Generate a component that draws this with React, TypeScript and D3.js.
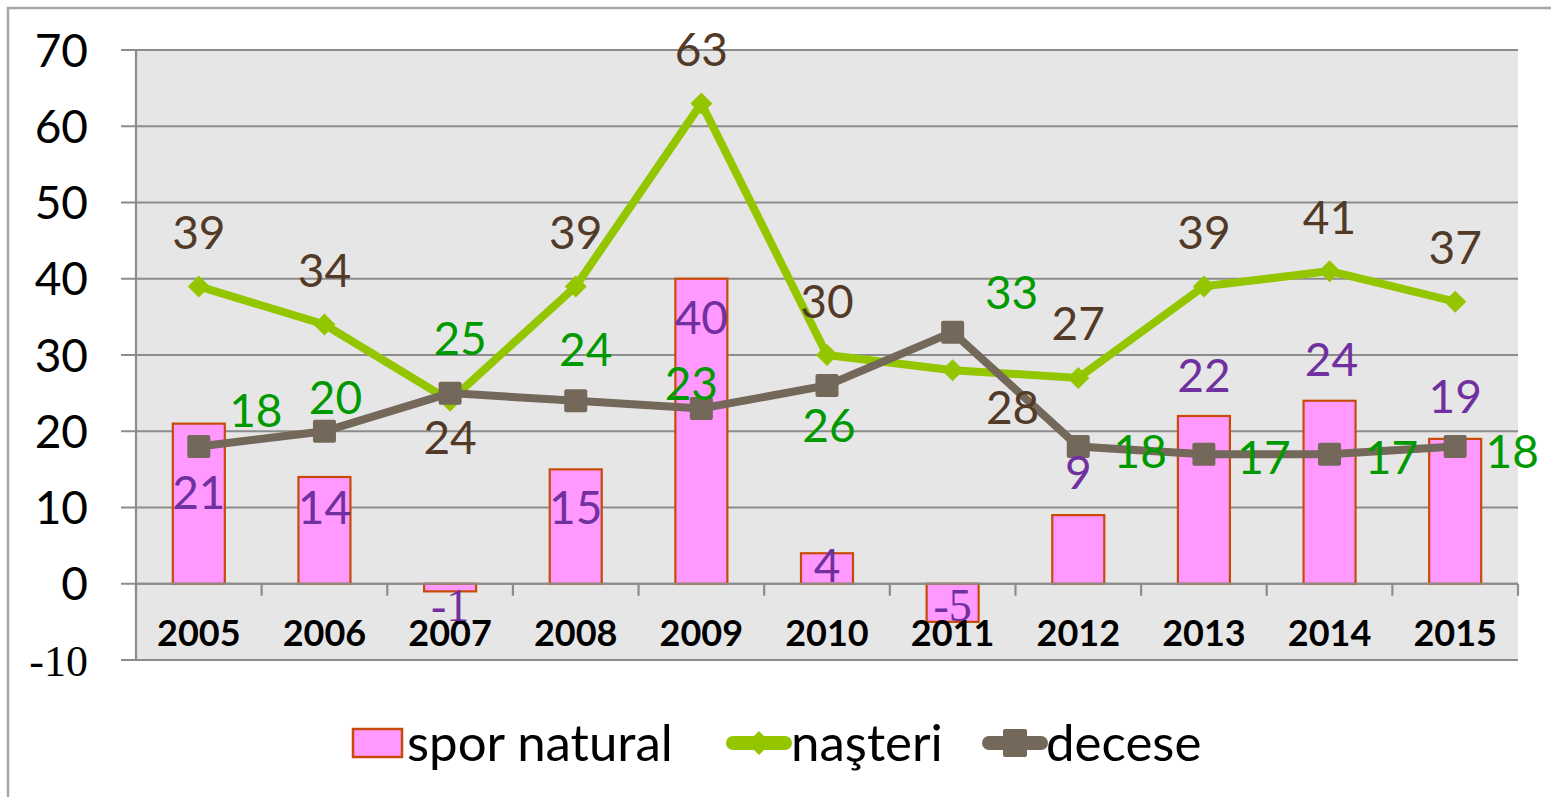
import React from 'react';
import * as d3 from 'd3';

// years on the category axis
const years = ['2005', '2006', '2007', '2008', '2009', '2010', '2011', '2012', '2013', '2014', '2015'];
// spor natural (bars)
const spor = [21, 14, -1, 15, 40, 4, -5, 9, 22, 24, 19];
// nasteri (green line)
const nasteri = [39, 34, 24, 39, 63, 30, 28, 27, 39, 41, 37];
// decese (grey-brown line)
const decese = [18, 20, 25, 24, 23, 26, 33, 18, 17, 17, 18];
const yTicks = [70, 60, 50, 40, 30, 20, 10, 0, -10];

// label placement, as Excel put them (pixel offsets from the point)
const nastLabelOff = [[0, -54], [0, -54], [0, 37], [0, -54], [0, -54], [0, -54], [60, 37], [0, -54], [0, -54], [0, -54], [0, -54]];
const decLabelOff = [[57, -36], [11, -34], [10, -55], [10, -51], [-10, -25], [2, 40], [59, -40], [62, 5], [60, 3], [62, 3], [57, 5]];
const sporLabelOff = [[0, 69], [0, 30], [0, 13], [0, 38], [0, 39], [0, 12], [0, -17], [0, -43], [0, -41], [2, -41], [0, -42]];

const W = 1551;
const H = 797;
const left = 136, right = 1518, top = 50, bottom = 660;

const GOTHIC = 'Lato, "Open Sans", sans-serif';

export default function App() {
  const x = d3.scaleBand().domain(years).range([left, right]);
  const y = d3.scaleLinear().domain([-10, 70]).range([bottom, top]);
  const cx = (i: number) => (x(years[i]) as number) + x.bandwidth() / 2;
  const barW = 52;

  const line = d3.line<number>().x((d, i) => cx(i)).y(d => y(d));

  const diamond = (px: number, py: number, r: number) =>
    `M${px},${py - r}L${px + r},${py}L${px},${py + r}L${px - r},${py}Z`;

  return (
    <svg width={W} height={H} style={{ position: 'absolute', left: 0, top: 0, display: 'block', background: '#fff' }}>
      {/* outer frame */}
      <rect x={8} y={8} width={W + 20} height={H + 20} fill="none" stroke="#a6a6a6" strokeWidth={2.5} />

      {/* plot background */}
      <rect x={left} y={top} width={right - left} height={bottom - top} fill="#e6e6e6" />

      {/* gridlines + y ticks */}
      {yTicks.map(t => (
        <g key={t}>
          <line x1={121} x2={right} y1={y(t)} y2={y(t)} stroke="#8c8c8c" strokeWidth={2.2} />
          <text
            x={88}
            y={y(t)}
            dy="0.36em"
            textAnchor="end"
            fontFamily={t < 0 ? '"Liberation Serif", serif' : GOTHIC}
            fontSize={t < 0 ? 44 : 46}
            fill="#000"
          >
            {t}
          </text>
        </g>
      ))}
      <line x1={left} x2={left} y1={top} y2={bottom} stroke="#8c8c8c" strokeWidth={2.2} />

      {/* bars */}
      {spor.map((v, i) => (
        <rect
          key={years[i]}
          x={cx(i) - barW / 2}
          y={Math.min(y(v), y(0))}
          width={barW}
          height={Math.abs(y(v) - y(0))}
          fill="#ff99ff"
          stroke="#c94a08"
          strokeWidth={2.2}
        />
      ))}

      {/* category axis at zero */}
      <line x1={left} x2={right} y1={y(0)} y2={y(0)} stroke="#8c8c8c" strokeWidth={2.2} />
      {d3.range(years.length + 1).map(k => {
        const px = left + k * x.step();
        return <line key={k} x1={px} x2={px} y1={y(0)} y2={y(0) + 12} stroke="#8c8c8c" strokeWidth={2.2} />;
      })}
      {years.map((yr, i) => (
        <text key={yr} x={cx(i)} y={633} dy="0.36em" textAnchor="middle" fontFamily={GOTHIC} fontWeight="bold" fontSize={36} fill="#000">
          {yr}
        </text>
      ))}

      {/* nasteri line */}
      <path d={line(nasteri) as string} fill="none" stroke="#94c600" strokeWidth={8} strokeLinejoin="miter" />
      {nasteri.map((v, i) => (
        <path key={i} d={diamond(cx(i), y(v), 11)} fill="#94c600" />
      ))}

      {/* decese line */}
      <path d={line(decese) as string} fill="none" stroke="#736859" strokeWidth={8} strokeLinejoin="miter" />
      {decese.map((v, i) => (
        <rect key={i} x={cx(i) - 11.5} y={y(v) - 11.5} width={23} height={23} rx={2} fill="#736859" />
      ))}

      {/* data labels */}
      {nasteri.map((v, i) => (
        <text key={'n' + i} x={cx(i) + nastLabelOff[i][0]} y={y(v) + nastLabelOff[i][1]} dy="0.36em" textAnchor="middle" fontFamily={GOTHIC} fontSize={46} fill="#523a27">
          {v}
        </text>
      ))}
      {decese.map((v, i) => (
        <text key={'d' + i} x={cx(i) + decLabelOff[i][0]} y={y(v) + decLabelOff[i][1]} dy="0.36em" textAnchor="middle" fontFamily={GOTHIC} fontSize={46} fill="#009a00">
          {v}
        </text>
      ))}
      {spor.map((v, i) => (
        <text
          key={'s' + i}
          x={cx(i) + sporLabelOff[i][0]}
          y={y(v) + sporLabelOff[i][1]}
          dy="0.36em"
          textAnchor="middle"
          fontFamily={v < 0 ? '"Liberation Serif", serif' : GOTHIC}
          fontSize={46}
          fill="#7030a0"
        >
          {v}
        </text>
      ))}

      {/* legend */}
      <g fontFamily={GOTHIC} fontSize={51} fill="#000">
        <rect x={353} y={729} width={49} height={28} fill="#ff99ff" stroke="#c94a08" strokeWidth={2.5} />
        <text x={407} y={743} dy="0.36em">spor natural</text>

        <line x1={733} x2={785} y1={743} y2={743} stroke="#94c600" strokeWidth={14} strokeLinecap="round" />
        <path d={diamond(759, 743, 12)} fill="#94c600" />
        <text x={791} y={743} dy="0.36em">naşteri</text>

        <line x1={989} x2={1041} y1={743} y2={743} stroke="#736859" strokeWidth={14} strokeLinecap="round" />
        <rect x={1003} y={729} width={24} height={28} rx={2} fill="#736859" />
        <text x={1046} y={743} dy="0.36em">decese</text>
      </g>
    </svg>
  );
}
